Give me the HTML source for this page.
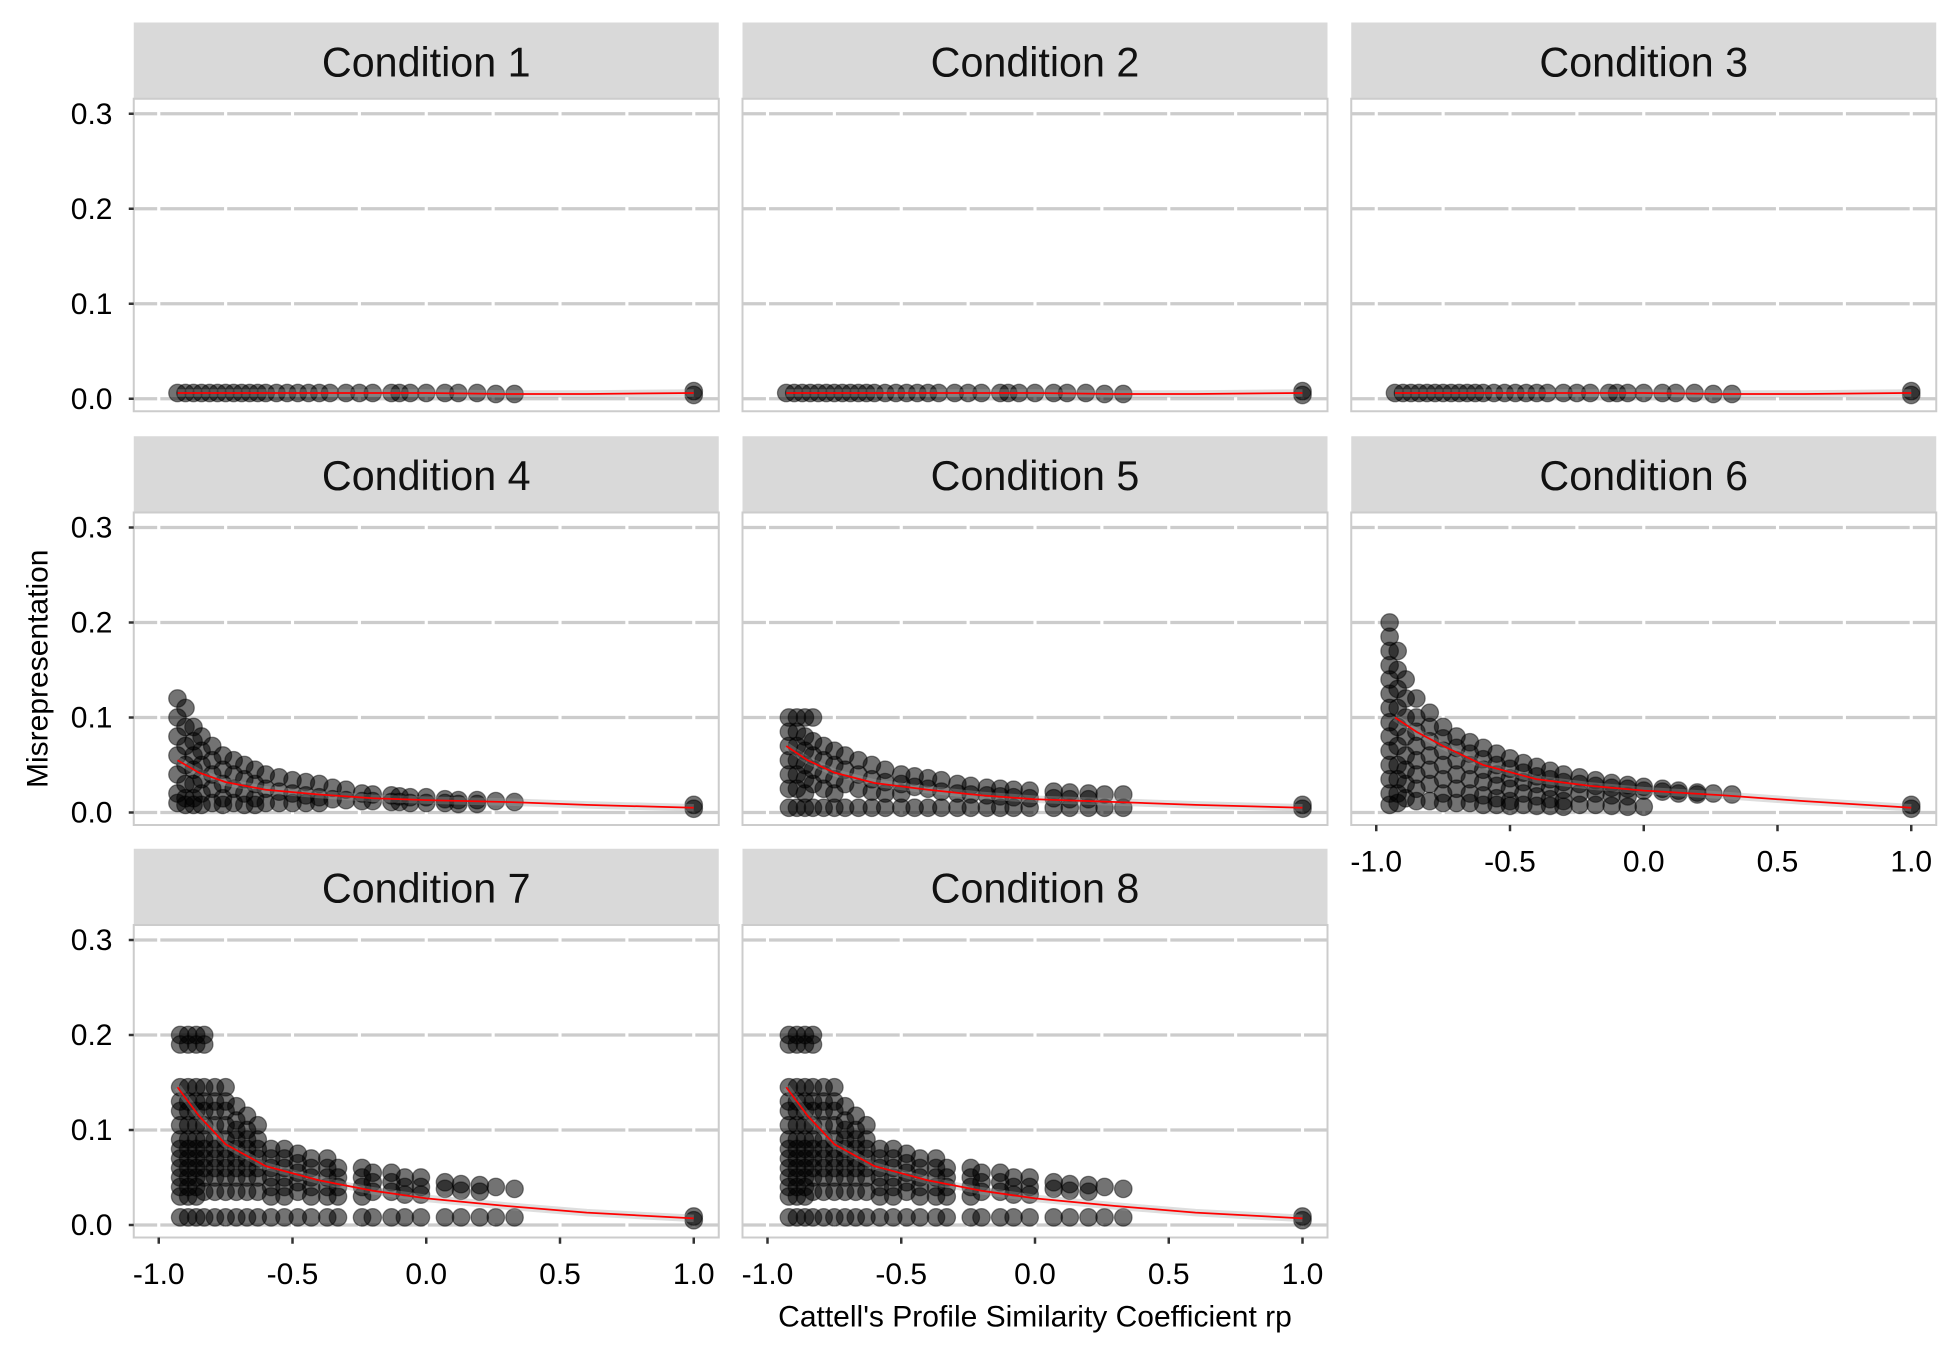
<!DOCTYPE html>
<html><head><meta charset="utf-8"><style>
html,body{margin:0;padding:0;background:#fff}
svg{display:block}
text{font-family:"Liberation Sans",Arial,sans-serif}
</style></head><body>
<svg id="chart" width="1950" height="1350" viewBox="0 0 1560 1080" xmlns="http://www.w3.org/2000/svg">
<g id="panels"></g>
<text x="828" y="1061" font-size="24" text-anchor="middle">Cattell's Profile Similarity Coefficient rp</text>
<text transform="translate(38,535) rotate(-90)" font-size="24" text-anchor="middle">Misrepresentation</text>
</svg>
<script>
const xTicks = [-1.0, -0.5, 0.0, 0.5, 1.0];
const xTickLabels = ["-1.0", "-0.5", "0.0", "0.5", "1.0"];
const yTicks = [0.0, 0.1, 0.2, 0.3];
const yTickLabels = ["0.0", "0.1", "0.2", "0.3"];
const conditionNames = ["Condition 1","Condition 2","Condition 3","Condition 4","Condition 5","Condition 6","Condition 7","Condition 8"];

const cond1Cols = [[-0.93,[0.006]],[-0.9,[0.006]],[-0.87,[0.006]],[-0.84,[0.006]],[-0.81,[0.006]],[-0.78,[0.006]],[-0.75,[0.006]],[-0.72,[0.006]],[-0.69,[0.006]],[-0.66,[0.006]],[-0.63,[0.006]],[-0.6,[0.006]],[-0.56,[0.006]],[-0.52,[0.006]],[-0.48,[0.006]],[-0.44,[0.006]],[-0.4,[0.006]],[-0.36,[0.006]],[-0.3,[0.006]],[-0.25,[0.006]],[-0.2,[0.006]],[-0.13,[0.006]],[-0.1,[0.006]],[-0.06,[0.006]],[0.0,[0.006]],[0.07,[0.006]],[0.12,[0.006]],[0.19,[0.006]],[0.26,[0.005]],[0.33,[0.005]],[1.0,[0.004,0.008]]];
const cond2Cols = cond1Cols;
const cond3Cols = cond1Cols;
const cond4Cols = [[-0.93,[0.12,0.1,0.08,0.06,0.04,0.02,0.01]],[-0.9,[0.11,0.09,0.07,0.05,0.03,0.015,0.008]],[-0.87,[0.09,0.075,0.06,0.045,0.03,0.015,0.008]],[-0.84,[0.08,0.065,0.05,0.035,0.02,0.008]],[-0.8,[0.07,0.055,0.04,0.025,0.01]],[-0.76,[0.06,0.045,0.03,0.015,0.008]],[-0.72,[0.055,0.04,0.025,0.01]],[-0.68,[0.05,0.035,0.02,0.008]],[-0.64,[0.045,0.03,0.015,0.008]],[-0.6,[0.04,0.025,0.01]],[-0.55,[0.037,0.022,0.01]],[-0.5,[0.034,0.02,0.01]],[-0.45,[0.032,0.018,0.01]],[-0.4,[0.03,0.016,0.01]],[-0.35,[0.026,0.014]],[-0.3,[0.024,0.013]],[-0.24,[0.02,0.012]],[-0.2,[0.019,0.012]],[-0.13,[0.018,0.011]],[-0.1,[0.017,0.011]],[-0.06,[0.016,0.01]],[0.0,[0.016,0.01]],[0.07,[0.014,0.01]],[0.12,[0.013,0.009]],[0.19,[0.013,0.009]],[0.26,[0.012]],[0.33,[0.011]],[1.0,[0.004,0.008]]];
const cond5Cols = [[-0.92,[0.1,0.085,0.07,0.055,0.04,0.025,0.005]],[-0.89,[0.1,0.085,0.07,0.055,0.04,0.025,0.005]],[-0.86,[0.1,0.08,0.065,0.05,0.035,0.02,0.005]],[-0.83,[0.1,0.075,0.06,0.045,0.03,0.005]],[-0.79,[0.07,0.055,0.04,0.025,0.005]],[-0.75,[0.065,0.05,0.035,0.02,0.005]],[-0.71,[0.06,0.045,0.03,0.005]],[-0.66,[0.055,0.04,0.025,0.005]],[-0.61,[0.05,0.035,0.022,0.005]],[-0.56,[0.045,0.032,0.02,0.005]],[-0.5,[0.04,0.03,0.02,0.005]],[-0.45,[0.038,0.027,0.005]],[-0.4,[0.036,0.025,0.005]],[-0.35,[0.034,0.022,0.005]],[-0.29,[0.03,0.02,0.005]],[-0.24,[0.028,0.019,0.005]],[-0.18,[0.026,0.018,0.005]],[-0.13,[0.025,0.017,0.005]],[-0.08,[0.024,0.016,0.005]],[-0.02,[0.023,0.015,0.005]],[0.07,[0.022,0.015,0.005]],[0.13,[0.021,0.014,0.005]],[0.2,[0.02,0.014,0.005]],[0.26,[0.019,0.005]],[0.33,[0.019,0.005]],[1.0,[0.004,0.008]]];
const cond6Cols = [[-0.95,[0.2,0.185,0.17,0.155,0.14,0.125,0.11,0.095,0.08,0.065,0.05,0.035,0.02,0.008]],[-0.92,[0.17,0.15,0.13,0.11,0.09,0.07,0.05,0.035,0.02,0.01]],[-0.89,[0.14,0.12,0.1,0.08,0.06,0.045,0.03,0.015]],[-0.85,[0.12,0.1,0.085,0.07,0.055,0.04,0.025,0.012]],[-0.8,[0.105,0.09,0.075,0.06,0.045,0.03,0.012]],[-0.75,[0.09,0.078,0.065,0.05,0.035,0.02,0.01]],[-0.7,[0.08,0.068,0.055,0.04,0.025,0.01]],[-0.65,[0.074,0.062,0.05,0.035,0.02,0.01]],[-0.6,[0.068,0.056,0.045,0.032,0.018,0.008]],[-0.55,[0.062,0.05,0.04,0.028,0.015,0.008]],[-0.5,[0.057,0.046,0.036,0.025,0.012,0.007]],[-0.45,[0.052,0.042,0.032,0.02,0.008]],[-0.4,[0.048,0.038,0.03,0.017,0.007]],[-0.35,[0.044,0.035,0.026,0.014,0.007]],[-0.3,[0.04,0.032,0.024,0.012,0.006]],[-0.24,[0.037,0.03,0.02,0.008]],[-0.18,[0.034,0.028,0.02,0.008]],[-0.12,[0.031,0.026,0.018,0.007]],[-0.06,[0.029,0.025,0.017,0.006]],[0.0,[0.027,0.023,0.006]],[0.07,[0.025,0.022]],[0.13,[0.023,0.02]],[0.2,[0.021,0.019]],[0.26,[0.02]],[0.33,[0.019]],[1.0,[0.004,0.008]]];
const cond7Cols = [[-0.92,[0.2,0.19,0.145,0.13,0.12,0.105,0.09,0.08,0.07,0.06,0.05,0.04,0.03,0.008]],[-0.89,[0.2,0.19,0.145,0.13,0.12,0.105,0.09,0.08,0.07,0.06,0.05,0.04,0.03,0.008]],[-0.86,[0.2,0.19,0.145,0.13,0.12,0.105,0.09,0.08,0.07,0.06,0.05,0.04,0.03,0.008]],[-0.83,[0.2,0.19,0.145,0.13,0.12,0.105,0.09,0.08,0.07,0.06,0.05,0.035,0.008]],[-0.79,[0.145,0.13,0.12,0.105,0.09,0.08,0.07,0.06,0.05,0.035,0.008]],[-0.75,[0.145,0.13,0.12,0.105,0.09,0.08,0.07,0.06,0.05,0.035,0.008]],[-0.71,[0.125,0.11,0.1,0.09,0.08,0.07,0.06,0.05,0.035,0.008]],[-0.67,[0.115,0.1,0.09,0.08,0.07,0.06,0.05,0.035,0.008]],[-0.63,[0.105,0.09,0.08,0.07,0.06,0.05,0.035,0.008]],[-0.58,[0.08,0.07,0.06,0.05,0.04,0.03,0.008]],[-0.53,[0.08,0.07,0.06,0.05,0.04,0.03,0.008]],[-0.48,[0.075,0.065,0.055,0.045,0.035,0.008]],[-0.43,[0.07,0.06,0.05,0.04,0.03,0.008]],[-0.37,[0.07,0.06,0.05,0.04,0.03,0.008]],[-0.33,[0.06,0.05,0.04,0.03,0.008]],[-0.24,[0.06,0.05,0.04,0.03,0.008]],[-0.2,[0.055,0.045,0.035,0.008]],[-0.13,[0.055,0.045,0.035,0.008]],[-0.08,[0.05,0.04,0.032,0.008]],[-0.02,[0.05,0.04,0.032,0.008]],[0.07,[0.045,0.038,0.008]],[0.13,[0.043,0.036,0.008]],[0.2,[0.042,0.035,0.008]],[0.26,[0.04,0.008]],[0.33,[0.038,0.008]],[1.0,[0.005,0.009]]];
const cond8Cols = cond7Cols;
const allCols = [cond1Cols,cond2Cols,cond3Cols,cond4Cols,cond5Cols,cond6Cols,cond7Cols,cond8Cols];

const smoothX = [-0.93,-0.85,-0.75,-0.6,-0.4,-0.2,0.0,0.3,0.6,1.0];
const smooth1Y = [0.006,0.006,0.006,0.006,0.006,0.006,0.006,0.005,0.005,0.006];
const smooth4Y = [0.055,0.042,0.032,0.024,0.019,0.015,0.013,0.011,0.008,0.005];
const smooth5Y = [0.07,0.055,0.042,0.031,0.024,0.018,0.014,0.011,0.008,0.005];
const smooth6Y = [0.1,0.085,0.07,0.05,0.035,0.028,0.023,0.018,0.012,0.005];
const smooth7Y = [0.145,0.115,0.085,0.062,0.047,0.036,0.028,0.02,0.013,0.007];
const allSmooth = [smooth1Y,smooth1Y,smooth1Y,smooth4Y,smooth5Y,smooth6Y,smooth7Y,smooth7Y];

const NS = "http://www.w3.org/2000/svg";
const colLeft = [107, 594, 1081], panelW = 468;
const rowTop = [18, 349, 679], stripH = 61, plotH = 250;
const root = document.getElementById('panels');
function mk(tag, attrs, parent){const e=document.createElementNS(NS,tag);for(const k in attrs)e.setAttribute(k,attrs[k]);parent.appendChild(e);return e;}

conditionNames.forEach((name, i) => {
  const r = Math.floor(i/3), c = i%3;
  const L = colLeft[c], T = rowTop[r], PT = T + stripH;
  const sx = v => L + 20 + (v + 1) / 2 * (panelW - 40);
  const sy = v => PT + 240 - v / 0.3 * 228;
  const g = mk('g', {}, root);
  
  
  const strip = mk('rect', {x:L, y:T, width:panelW, height:stripH, fill:'#d9d9d9'}, g);
  
  
  const st = mk('text', {x:L+panelW/2, y:T+43, 'font-size':33, 'text-anchor':'middle', fill:'#111'}, g);
  st.textContent = name;
  
  
  yTicks.forEach(v => { const l = mk('line', {x1:L, x2:L+panelW, y1:sy(v), y2:sy(v), stroke:'#cccccc', 'stroke-width':2.6}, g);
      });
  [-1,-0.75,-0.5,-0.25,0,0.25,0.5,0.75,1].forEach(v => { const l = mk('line', {x1:sx(v), x2:sx(v), y1:PT, y2:PT+plotH, stroke:'#ffffff', 'stroke-width':2.5}, g);
      });
  const border = mk('rect', {x:L, y:PT, width:panelW, height:plotH, fill:'none', stroke:'#cccccc', 'stroke-width':1.6}, g);
  
  
  if (c === 0) {
    yTicks.forEach((v, k) => {
      const t = mk('line', {x1:L-4, x2:L, y1:sy(v), y2:sy(v), stroke:'#333', 'stroke-width':2}, g);
       
      const tl = mk('text', {x:L-17, y:sy(v)+8, 'font-size':24, 'text-anchor':'end', fill:'#000'}, g);
      tl.textContent = yTickLabels[k];
       
    });
  }
  if (r === 2 || (r === 1 && c === 2)) {
    xTicks.forEach((v, k) => {
      const t = mk('line', {x1:sx(v), x2:sx(v), y1:PT+plotH, y2:PT+plotH+5, stroke:'#333', 'stroke-width':2}, g);
       
      const tl = mk('text', {x:sx(v), y:PT+plotH+37, 'font-size':24, 'text-anchor':'middle', fill:'#000'}, g);
      tl.textContent = xTickLabels[k];
       
    });
  }
  allCols[i].forEach(col => {
    col[1].forEach(v => {
      const p = mk('circle', {cx:sx(col[0]), cy:sy(v), r:7, fill:'rgba(0,0,0,0.55)', stroke:'rgba(0,0,0,0.45)', 'stroke-width':1}, g);
      
      
    });
  });
  const sy2 = allSmooth[i];
  const d = smoothX.map((x, k) => (k ? 'L' : 'M') + sx(x).toFixed(1) + ',' + sy(sy2[k]).toFixed(1)).join(' ');
  const band = mk('path', {d:d, fill:'none', stroke:'rgba(160,160,160,0.35)', 'stroke-width':6}, g);
  
  
  const line = mk('path', {d:d, fill:'none', stroke:'#ff0000', 'stroke-width':1.4}, g);
  
  
});
</script>
</body></html>
